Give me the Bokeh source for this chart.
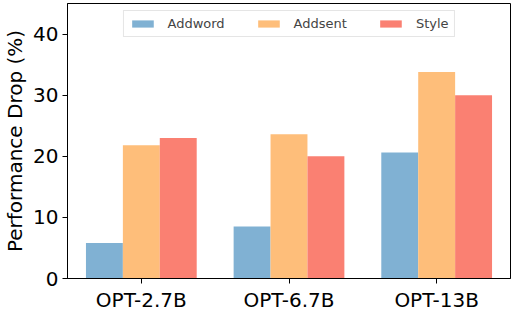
from bokeh.plotting import figure
from bokeh.models import ColumnDataSource, FactorRange, Legend, LegendItem
from bokeh.transform import dodge
from bokeh.embed import file_html
from bokeh.resources import INLINE

models = ["OPT-2.7B", "OPT-6.7B", "OPT-13B"]
series = ["Addword", "Addsent", "Style"]
addword = [5.8, 8.5, 20.6]
addsent = [21.8, 23.6, 33.8]
style = [23.0, 20.0, 30.0]
colors = ["#80b1d3", "#febe7a", "#fa8072"]
y_ticks = [0, 10, 20, 30, 40]

source = ColumnDataSource(dict(model=models, Addword=addword, Addsent=addsent, Style=style))

p = figure(x_range=FactorRange(*models), y_range=(0, 45), width=512, height=314,
           output_backend="svg", toolbar_location=None,
           min_border_left=0, min_border_right=2, min_border_top=3, min_border_bottom=0)
p.x_range.range_padding = 0

offsets = [-0.25, 0.0, 0.25]
renderers = []
for name, off, col in zip(series, offsets, colors):
    r = p.vbar(x=dodge("model", off, range=p.x_range), top=name, width=0.25,
               source=source, fill_color=col, line_color=None)
    renderers.append(r)

legend = Legend(items=[LegendItem(label=s, renderers=[r]) for s, r in zip(series, renderers)],
                orientation="horizontal", location="top_center")
legend.label_text_font = "DejaVu Sans"
legend.label_text_font_size = "13px"
legend.glyph_width = 27
legend.glyph_height = 9
legend.label_standoff = 12
legend.spacing = 30
legend.padding = 5
legend.margin = 7
legend.label_height = 14
legend.border_line_color = "#cccccc"
legend.border_line_width = 1
legend.background_fill_alpha = 0.8
p.add_layout(legend)

p.xgrid.visible = False
p.ygrid.visible = False
p.outline_line_color = "black"
p.outline_line_width = 1
p.outline_line_alpha = 1

p.yaxis.ticker = y_ticks
for ax in [p.xaxis[0], p.yaxis[0]]:
    ax.major_label_text_font = "DejaVu Sans"
    ax.major_label_text_font_size = "20px"
    ax.major_label_text_color = "black"
    ax.axis_line_color = "black"
    ax.major_tick_line_color = "black"
    ax.major_tick_out = 5
    ax.major_tick_in = 0
    ax.minor_tick_line_color = None
    ax.major_label_standoff = 4

p.yaxis.axis_label = "Performance Drop (%)"
p.yaxis.axis_label_text_font = "DejaVu Sans"
p.yaxis.axis_label_text_font_size = "20px"
p.yaxis.axis_label_text_font_style = "normal"
p.yaxis.axis_label_text_color = "black"
p.yaxis.axis_label_standoff = 3

open("out.html", "w").write(file_html(p, INLINE))
